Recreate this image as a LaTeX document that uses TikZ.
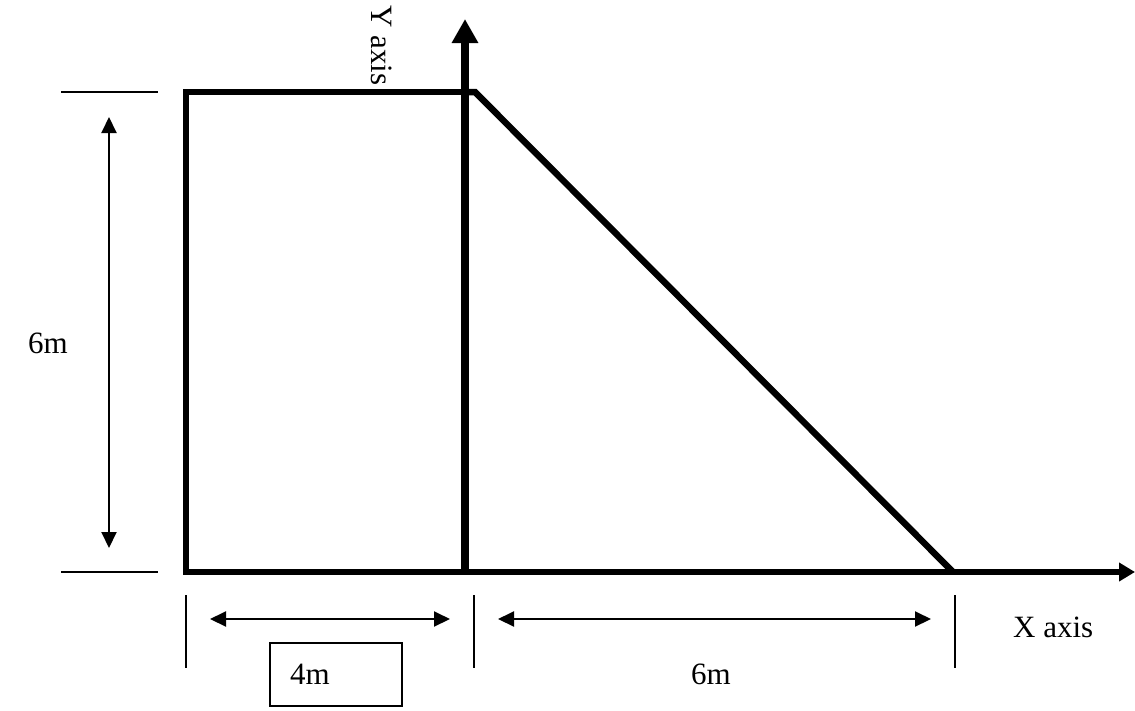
\documentclass[tikz,border=0pt]{standalone}
\usepackage{fontspec}
\setmainfont{Liberation Serif}
\usetikzlibrary{arrows.meta}
\begin{document}
\begin{tikzpicture}[x=1pt,y=-1pt,
  thickln/.style={line width=6.5pt},
  thinln/.style={line width=2pt},
  dimarrow/.style={thinln,{Triangle[length=16pt,width=15pt]}-{Triangle[length=16pt,width=15pt]}},
  lbl/.style={font=\fontsize{31}{36}\selectfont, inner sep=0pt}]
\useasboundingbox (0,0) rectangle (1135,710);
% key points
\coordinate (TL) at (186,92);
\coordinate (BL) at (186,572);
\coordinate (O) at (465,572);
\coordinate (TR) at (475,92);
\coordinate (TE) at (953,572);
\coordinate (Ytip) at (465,19);
\coordinate (Xtip) at (1135,572);
% rectangle and triangle
\draw[thickln, line join=miter] (O |- TL) -- (TL) -- (BL) -- (O);
\draw[thickln] (O |- TL) -- (TR) -- (TE);
% axes
\draw[line width=8pt,-{Triangle[length=24pt,width=25pt]}] (O) -- (Ytip);
\draw[thickln,-{Triangle[length=16pt,width=18pt]}] (O) -- (Xtip);
% left dimension
\coordinate (h1a) at (61,92); \coordinate (h1b) at (158,92);
\coordinate (h2a) at (61,572); \coordinate (h2b) at (158,572);
\draw[thinln] (h1a) -- (h1b);
\draw[thinln] (h2a) -- (h2b);
\coordinate (va) at (109,117); \coordinate (vb) at (109,548);
\draw[dimarrow] (va) -- (vb);
\node[lbl] (six1) at (48,343) {6m};
% bottom ticks
\coordinate (t1a) at (186,595); \coordinate (t1b) at (186,668);
\coordinate (t2a) at (474,595); \coordinate (t2b) at (474,668);
\coordinate (t3a) at (955,595); \coordinate (t3b) at (955,668);
\draw[thinln] (t1a) -- (t1b);
\draw[thinln] (t2a) -- (t2b);
\draw[thinln] (t3a) -- (t3b);
% bottom dimension arrows
\coordinate (d1a) at (210,619); \coordinate (d1b) at (450,619);
\coordinate (d2a) at (498,619); \coordinate (d2b) at (931,619);
\draw[dimarrow] (d1a) -- (d1b);
\draw[dimarrow] (d2a) -- (d2b);
% 4m box
\node[draw, line width=1.5pt, minimum width=132pt, minimum height=63pt, inner sep=0pt] (box) at (336,674.5) {};
\node[lbl, anchor=base west] (four) at (290,684) {4m};
\node[lbl, anchor=base] (six2) at (711,684) {6m};
\node[lbl, anchor=base west] (xax) at (1013,637) {X axis};
\node[lbl, rotate=-90, anchor=north west] (yax) at (392,5) {Y axis};
\end{tikzpicture}
\end{document}
